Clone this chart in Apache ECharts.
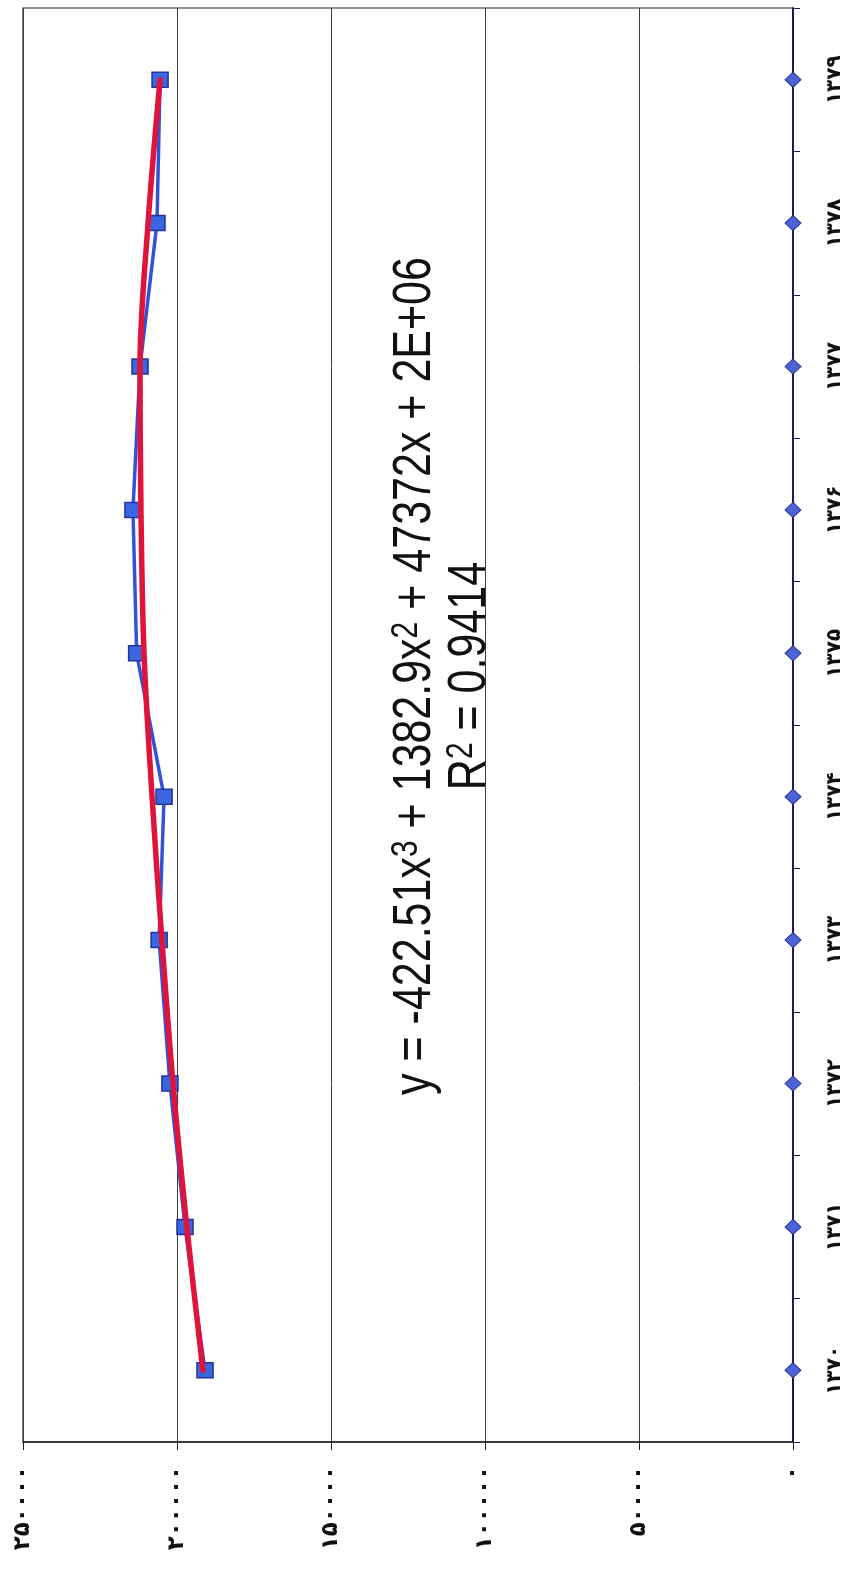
<!DOCTYPE html>
<html>
<head>
<meta charset="utf-8">
<title>روند سالانه</title>
<script src="https://cdn.jsdelivr.net/npm/echarts@6/dist/echarts.min.js"></script>
<style>
  html, body { margin: 0; padding: 0; background: #ffffff; }
  #chart { width: 857px; height: 1569px; }
</style>
</head>
<body>
<div id="chart"></div>
<script>
// Years (Solar Hijri) along the category axis
const years = [1370, 1371, 1372, 1373, 1374, 1375, 1376, 1377, 1378, 1379];
// Observed annual values
const observed = [190900, 197400, 202300, 205800, 204200, 213100, 214300, 212000, 206500, 205500];
// Third-order polynomial trend line values
const trend = [191600, 196800, 201300, 204900, 208100, 210700, 211700, 212000, 209400, 205500];
// Baseline series sitting on zero
const baseline = [0, 0, 0, 0, 0, 0, 0, 0, 0, 0];
// Value axis ticks
const valueTicks = [0, 50000, 100000, 150000, 200000, 250000];

const equationLine = 'y = -422.51x{sup|3} + 1382.9x{sup|2} + 47372x + 2E+06';
const r2Line = 'R{sup|2} = 0.9414';

const faDigits = '۰۱۲۳۴۵۶۷۸۹';
const toFa = v => String(v).replace(/\d/g, d => faDigits[d]);

const chart = echarts.init(document.getElementById('chart'), null, { renderer: 'canvas' });

chart.setOption({
  backgroundColor: '#ffffff',
  animation: false,
  grid: {
    left: 23, top: 8, width: 770, height: 1434,
    show: true, borderColor: '#2a2a2a', borderWidth: 1.2
  },
  xAxis: {
    type: 'value',
    position: 'bottom',
    inverse: true,
    min: valueTicks[0],
    max: valueTicks[valueTicks.length - 1],
    interval: valueTicks[1] - valueTicks[0],
    axisLine: { show: true, onZero: false, lineStyle: { color: '#1e1e1e', width: 1.5 } },
    axisTick: { show: true, length: 8, lineStyle: { color: '#1e1e1e' } },
    splitLine: { show: true, lineStyle: { color: '#3a3f3a', width: 1 } },
    axisLabel: {
      rotate: 90, margin: 24, color: '#111',
      fontFamily: 'DejaVu Sans', fontSize: 23, fontWeight: 'bold',
      formatter: v => toFa(v)
    }
  },
  yAxis: {
    type: 'category',
    position: 'right',
    data: years,
    boundaryGap: true,
    axisLine: { show: true, onZero: false, lineStyle: { color: '#1a1a50', width: 2 } },
    axisTick: { show: true, length: 7, inside: false, lineStyle: { color: '#1a1a50' } },
    splitLine: { show: false },
    axisLabel: {
      rotate: 90, margin: 32, color: '#111',
      fontFamily: 'DejaVu Sans', fontSize: 20, fontWeight: 'bold',
      formatter: v => toFa(v)
    }
  },
  series: [
    {
      name: 'baseline',
      type: 'line',
      data: baseline,
      symbol: 'diamond',
      symbolSize: [16, 15],
      lineStyle: { color: '#1c1c5c', width: 2 },
      itemStyle: { color: '#4d62d4', borderColor: '#2b3796', borderWidth: 1 },
      z: 4
    },
    {
      name: 'observed',
      type: 'line',
      data: observed,
      symbol: 'rect',
      symbolSize: [16, 15],
      lineStyle: { color: '#3252d8', width: 3.5 },
      itemStyle: { color: '#3a66e0', borderColor: '#24349c', borderWidth: 1.5 },
      z: 3
    },
    {
      name: 'trend',
      type: 'line',
      data: trend,
      smooth: 0.35,
      showSymbol: false,
      symbol: 'none',
      lineStyle: { color: '#e0143a', width: 5.5, cap: 'round' },
      z: 5
    }
  ],
  graphic: [
    {
      type: 'text',
      x: 443, y: 676,
      rotation: Math.PI / 2,
      scaleY: 1.25,
      z: 10,
      style: {
        text: equationLine + '\n' + r2Line,
        fontFamily: 'Liberation Sans, Arial, sans-serif',
        fontSize: 43,
        lineHeight: 44,
        fill: '#111',
        align: 'center',
        verticalAlign: 'middle',
        rich: {
          sup: { fontSize: 30, lineHeight: 44, verticalAlign: 'top', fill: '#111', fontFamily: 'Liberation Sans, Arial, sans-serif' }
        }
      }
    }
  ]
});
</script>
</body>
</html>
